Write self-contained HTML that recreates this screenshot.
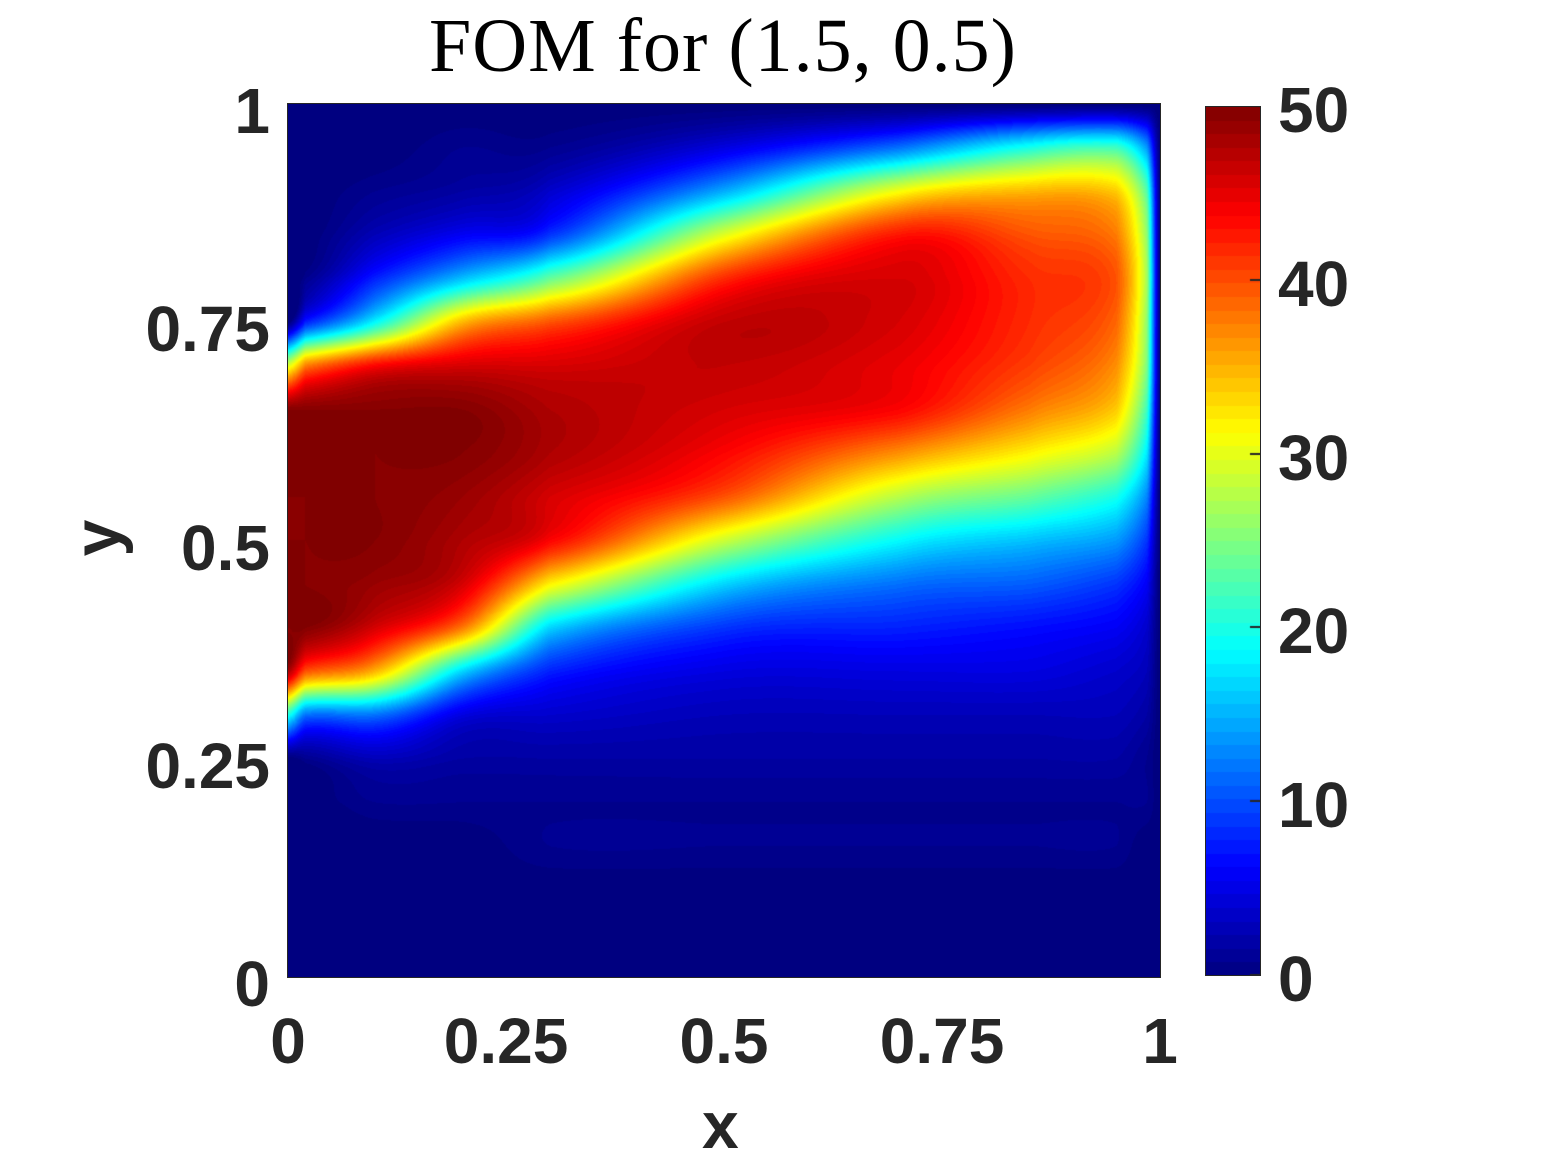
<!DOCTYPE html>
<html><head><meta charset="utf-8">
<style>
body{margin:0;background:#fff;width:1556px;height:1167px;position:relative;overflow:hidden;font-family:"Liberation Sans",Arial,sans-serif;}
.t{position:absolute;font-weight:bold;font-size:64px;color:#262626;line-height:1;}
canvas{position:absolute;}
</style></head><body>
<div style="position:absolute;left:0;width:1446px;top:8px;text-align:center;font-family:'Liberation Serif',serif;font-size:76px;line-height:1;letter-spacing:1px;color:#000;">FOM for (1.5, 0.5)</div>
<canvas id="hm" width="872" height="873" style="left:288px;top:104px;"></canvas>
<div style="position:absolute;left:287px;top:103px;width:872px;height:873px;border:1.5px solid #262626;"></div>
<canvas id="cb" width="55" height="869" style="left:1205px;top:106px;"></canvas>
<div style="position:absolute;left:1205px;top:106px;width:54px;height:868px;border:1px solid #262626;"></div>
<div id="labels"></div>
<div class="t" style="left:702px;top:1092px;font-size:66px;">x</div>
<div class="t" style="left:78px;top:505px;font-size:66px;transform:rotate(-90deg);">y</div>
<script>
const xs=[0,0.02,0.1,0.2,0.3,0.5,0.7,0.85,0.95,0.985,1];
const ysCount=21; // y = 0,0.05,...,1
const col0=[0,0,0,0,0,0,20,48,50,50,50,50,50,50,30,0,0,0,0,0,0];
const col1=[0,0,0,0,0,1,12,40,50,50,50,50,50,50,38,8,1,0,0,0,0];
const col2=[0,0,0,0,1,3,12,35,46,49,50,50,50,50,44,19,8,3,1,0,0];
const col3=[0,0,0,0,1,2,5,17,38,46,48,49,50,50,46,35,16,6,2,1,0];
const col4=[0,0,0,1,1,2,4,8,17,32,44,46,48,48,46,40,24,9,4,1,0];
const col5=[0,0,0,1,1,2,3,5,9,17,29,40,44,46,47,47,42,30,15,5,0];
const col6=[0,0,0,1,1,2,3,5,8,12,19,28,37,44,45,46,46,43,31,12,0];
const col7=[0,0,0,1,1,2,3,5,7,11,16,24,32,38,41,42,42,40,35,20,0];
const col8=[0,0,0,1,1,2,3,4,6,9,14,20,28,34,37,39,40,38,34,22,0];
const col9=[0,0,0,0,1,1,2,3,4,6,9,13,18,22,25,26,27,26,23,14,0];
const col10=[0,0,0,0,0,0,0,0,0,0,0,0,0,0,0,0,0,0,0,0,0];
const cols=[col0,col1,col2,col3,col4,col5,col6,col7,col8,col9,col10];
const xTicks=["0","0.25","0.5","0.75","1"];
const yTicks=["0","0.25","0.5","0.75","1"];
const cTicks=["0","10","20","30","40","50"];
const vmin=0,vmax=50;

function jet(t){t=Math.max(0,Math.min(1,t));const c=v=>Math.max(0,Math.min(1,v));
return [c(1.5-Math.abs(4*t-3))*255,c(1.5-Math.abs(4*t-2))*255,c(1.5-Math.abs(4*t-1))*255];}
const W=872,H=873;
const sx=v=>v*W, sy=v=>H-v*H;
function cr(p0,p1,p2,p3,t){return 0.5*((2*p1)+(-p0+p2)*t+(2*p0-5*p1+4*p2-p3)*t*t+(-p0+3*p1-3*p2+p3)*t*t*t);}
function colAt(c,y){const fy=y*(ysCount-1);let j=Math.min(ysCount-2,Math.floor(fy));const t=fy-j;
 const g=k=>c[Math.max(0,Math.min(ysCount-1,k))];return cr(g(j-1),g(j),g(j+1),g(j+2),t);}
function val(x,y){
 let i=0;while(i<xs.length-2&&x>xs[i+1])i++;
 const t=(x-xs[i])/(xs[i+1]-xs[i]);
 const g=k=>colAt(cols[Math.max(0,Math.min(cols.length-1,k))],y);
 return Math.max(0,Math.min(50,cr(g(i-1),g(i),g(i+1),g(i+2),t)));}
const hm=document.getElementById('hm').getContext('2d');
const img=hm.createImageData(W,H);
for(let py=0;py<H;py++){const y=(H-py-0.5)/H;for(let px=0;px<W;px++){const x=(px+0.5)/W;
 let v=val(x,y);v=Math.floor(v/50*100)/100*50;const c=jet((v-vmin)/(vmax-vmin));const k=(py*W+px)*4;
 img.data[k]=c[0];img.data[k+1]=c[1];img.data[k+2]=c[2];img.data[k+3]=255;}}
hm.putImageData(img,0,0);
const cb=document.getElementById('cb').getContext('2d');
const n=64;for(let i=0;i<n;i++){const c=jet((i+0.5)/n);cb.fillStyle=`rgb(${c[0]|0},${c[1]|0},${c[2]|0})`;
 const y0=869-(i+1)*869/n;cb.fillRect(0,Math.floor(y0),55,Math.ceil(869/n)+1);}
cb.fillStyle='#262626';
cTicks.forEach((t,i)=>{const y=869-i/(cTicks.length-1)*869;cb.fillRect(45,Math.round(y)-1,10,2);});
const L=document.getElementById('labels');
function lab(txt,left,top,align,name){const d=document.createElement('div');d.className='t';d.textContent=txt;
 
 
 d.style.top=top+'px';
 if(align==='c'){d.style.left=(left-150)+'px';d.style.width='300px';d.style.textAlign='center';}
 else if(align==='r'){d.style.left=(left-300)+'px';d.style.width='300px';d.style.textAlign='right';}
 else d.style.left=left+'px';
 L.appendChild(d);}
xTicks.forEach((t,i)=>lab(t,288+sx(i/(xTicks.length-1)),1009,'c','x-tick-label'));
yTicks.forEach((t,i)=>lab(t,270,104+sy(i/(yTicks.length-1))-25,'r','y-tick-label'));
cTicks.forEach((t,i)=>lab(t,1278,975-i/(cTicks.length-1)*869-28,'l','colorbar-tick-label'));
</script>
</body></html>
